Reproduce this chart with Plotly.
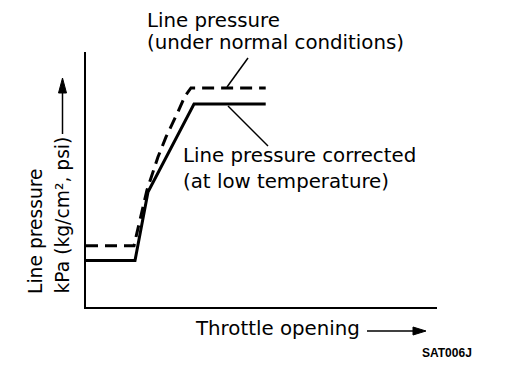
import plotly.graph_objects as go

# ---- data (schematic units: throttle opening 0-100, line pressure 0-100) ----
corrected_x = [0, 13.96, 17.66, 30.77, 51.2]
corrected_y = [18.2, 18.2, 45.1, 79.6, 79.6]

normal_x = [0, 13.68, 14.5, 17.38, 20.5, 22.8, 26.2, 28.2, 29.9, 51.2]
normal_y = [24.0, 24.0, 29.0, 45.9, 58.8, 66.7, 76.5, 82.7, 85.9, 85.9]

label_normal = ["Line pressure", "(under normal conditions)"]
label_corrected = ["Line pressure corrected", "(at low temperature)"]
x_title = "Throttle opening"
y_title = ["Line pressure", "kPa (kg/cm², psi)"]
code = "SAT006J"

# page has an 8px body margin; figure is sized so it ends at the window edge
OFF = 8
W, H = 512 - OFF, 374 - OFF
L, R, T, B = 86, 437, 52, 307  # plot area in window pixels


def px(x):
    return (x - L) / (R - L)


def py(y):
    return (B - y) / (B - T)


FONT = "DejaVu Sans"

fig = go.Figure()
fig.add_trace(go.Scatter(x=normal_x, y=normal_y, mode="lines",
                         line=dict(color="black", width=3, dash="12px,7px"),
                         hoverinfo="skip"))
fig.add_trace(go.Scatter(x=corrected_x, y=corrected_y, mode="lines",
                         line=dict(color="black", width=3),
                         hoverinfo="skip"))

shapes = []
# leader lines
shapes.append(dict(type="line", xref="paper", yref="paper",
                   x0=px(227), y0=py(87), x1=px(248), y1=py(58),
                   line=dict(color="black", width=1.5)))
shapes.append(dict(type="line", xref="paper", yref="paper",
                   x0=px(228), y0=py(106), x1=px(268), y1=py(146),
                   line=dict(color="black", width=1.5)))
# y arrow
shapes.append(dict(type="line", xref="paper", yref="paper",
                   x0=px(62.5), y0=py(134), x1=px(62.5), y1=py(92),
                   line=dict(color="black", width=1.5)))
shapes.append(dict(type="path", xref="paper", yref="paper",
                   path=f"M {px(58.5)},{py(93)} L {px(66.5)},{py(93)} L {px(62.5)},{py(78)} Z",
                   fillcolor="black", line=dict(color="black", width=1)))
# x arrow
shapes.append(dict(type="line", xref="paper", yref="paper",
                   x0=px(367), y0=py(331), x1=px(414), y1=py(331),
                   line=dict(color="black", width=1.5)))
shapes.append(dict(type="path", xref="paper", yref="paper",
                   path=f"M {px(413)},{py(327)} L {px(413)},{py(335)} L {px(426)},{py(331)} Z",
                   fillcolor="black", line=dict(color="black", width=1)))

ann = []


def text(t, x, y, size=19.8, xanchor="left", yanchor="middle", angle=0, family=FONT, weight="normal"):
    ann.append(dict(text=t, x=px(x), y=py(y), xref="paper", yref="paper",
                    showarrow=False, xanchor=xanchor, yanchor=yanchor,
                    textangle=angle,
                    font=dict(family=family, size=size, color="black", weight=weight)))


text(label_normal[0], 145, 20)
text(label_normal[1], 145, 43)
text(label_corrected[0], 181, 155)
text(label_corrected[1], 181, 181)
text(x_title, 193, 328)
text(code, 420, 352.5, size=12, family="Liberation Sans", weight="bold")
text(y_title[0], 35, 296, size=18.7, xanchor="center", yanchor="bottom", angle=-90)
text(y_title[1], 62, 296, size=18.7, xanchor="center", yanchor="bottom", angle=-90)

fig.update_layout(
    width=W, height=H, autosize=False,
    margin=dict(l=L - OFF, r=W + OFF - R, t=T - OFF, b=H + OFF - B, pad=0),
    paper_bgcolor="white", plot_bgcolor="white",
    showlegend=False,
    shapes=shapes, annotations=ann,
    xaxis=dict(range=[0, 100], showline=True, linecolor="black", linewidth=2,
               showgrid=False, zeroline=False, showticklabels=False, ticks="", fixedrange=True),
    yaxis=dict(range=[0, 100], showline=True, linecolor="black", linewidth=2,
               showgrid=False, zeroline=False, showticklabels=False, ticks="", fixedrange=True),
)

fig.write_html("out.html", config={"displayModeBar": False})
